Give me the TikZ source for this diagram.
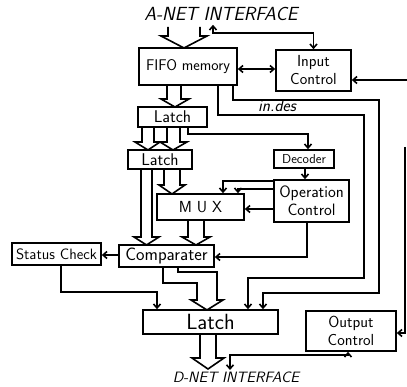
\documentclass[tikz,border=0pt]{standalone}
\usetikzlibrary{arrows.meta}
\begin{document}
\begin{tikzpicture}[x=1pt,y=-1pt,>={Straight Barb[length=4pt,width=7pt]},line width=1.6pt,
	blockbox/.style={draw, inner sep=1pt, align=center, font=\sffamily\fontsize{16}{18}\selectfont},
	nettext/.style={font=\sffamily\itshape\fontsize{19}{20}\selectfont}]
	
	\useasboundingbox (0,0) rectangle (407,387);
	
	% Draw the blocks
	\node[nettext] (anet) at (221,14) {A-NET INTERFACE};
	\node[blockbox, minimum width=98pt, minimum height=37pt, font=\sffamily\fontsize{15.5}{17}\selectfont] (fifo) at (188,66.5) {FIFO memory};
	\node[blockbox, minimum width=75pt, minimum height=41pt] (inctl) at (313.5,70.5) {Input\\Control};
	\node[blockbox, minimum width=69pt, minimum height=20pt, font=\sffamily\fontsize{17}{18}\selectfont] (latchA) at (172.5,117) {Latch};
	\node[blockbox, minimum width=64pt, minimum height=19pt, font=\sffamily\fontsize{17}{18}\selectfont] (latchB) at (160,159.5) {Latch};
	\node[blockbox, minimum width=60pt, minimum height=18pt, font=\sffamily\fontsize{13}{14}\selectfont] (decoder) at (304,159) {Decoder};
	\node[blockbox, minimum width=75pt, minimum height=42pt, font=\sffamily\fontsize{16.5}{18}\selectfont] (opctl) at (311.5,201) {Operation\\Control};
	\node[blockbox, minimum width=87pt, minimum height=26pt] (mux) at (200.5,207) {M\kern5pt U\kern5pt X};
	\node[blockbox, minimum width=95pt, minimum height=22pt, font=\sffamily\fontsize{18}{19}\selectfont] (comp) at (166.5,256) {Comparater};
	\node[blockbox, minimum width=89pt, minimum height=22pt, font=\sffamily\fontsize{15}{16}\selectfont] (status) at (56.5,254) {Status Check};
	\node[blockbox, minimum width=135pt, minimum height=24pt, font=\sffamily\fontsize{22}{23}\selectfont] (latchC) at (210.5,322) {Latch};
	\node[blockbox, minimum width=90pt, minimum height=40pt] (outctl) at (351,331) {Output\\Control};
	\node[nettext, anchor=north, inner sep=1pt, font=\sffamily\itshape\fontsize{15}{16}\selectfont] (dnet) at (236,370) {D-NET INTERFACE};
	\node[nettext, font=\sffamily\itshape\fontsize{17}{18}\selectfont] (indes) at (277,106) {in.des};
	
	% Draw the wide data arrows
	\draw (168,27) -- (168,36) -- (161,36) -- (184,48) -- (207,36) -- (200,36) -- (200,27);
	\draw (167,85) -- (167,99) -- (161,99) -- (175,107) -- (189,99) -- (181,99) -- (181,85);
	\draw (142,127) -- (142,142) -- (135,142) -- (148,150) -- (160,142) -- (154,142) -- (154,127);
	\draw (167,127) -- (167,142) -- (160,142) -- (173,150) -- (187,142) -- (180,142) -- (180,127);
	\draw (141,169) -- (141,237) -- (134,237) -- (146.5,245) -- (159,237) -- (152,237) -- (152,169);
	\draw (164,169) -- (164,185) -- (159,185) -- (172,194) -- (185,185) -- (180,185) -- (180,169);
	\draw (188,220) -- (188,237) -- (182,237) -- (196,245) -- (210,237) -- (204,237) -- (204,220);
	\draw (163,267) |- (197,283) -- (197,300) -- (191,300) -- (207,310) -- (223,300) -- (217,300) |- (178,272) -- (178,267);
	\draw (200,334) -- (200,358) -- (192,358) -- (208,369) -- (224,358) -- (216,358) -- (216,334);
	
	% Draw the control lines
	\draw[<->] (anet.south -| 213,0) -- (213,33) -| (inctl.north);
	\draw[<->] ([yshift=-2.5pt]fifo.east) -- ([yshift=-2.5pt]fifo.east -| inctl.west);
	\coordinate (inR) at (407,80);
	\draw[->] (inR) -- (inR -| inctl.east);
	\draw[->] ([xshift=-5pt]fifo.south east) |- (379,100) |- (263,293) -- (263,0 |- latchC.north);
	\draw[->] ([xshift=-20pt]fifo.south east) |- (364,115) |- (248,278) -- (248,0 |- latchC.north);
	\draw[->] ([xshift=-20pt]latchA.south east) |- (308,134) -- (308,0 |- decoder.north);
	\draw[->] (decoder.south -| 305,0) -- (305,0 |- opctl.north);
	\draw[->] (opctl.west |- 0,181) -| (223,0 |- mux.north);
	\draw[->] (opctl.west |- 0,189) -| (238,0 |- mux.north);
	\draw[->] (opctl.west |- 0,209) -- (mux.east |- 0,209);
	\draw[->] (opctl.south -| 307,0) |- (comp.east |- 0,257);
	\draw[->] (comp.west |- 0,255) -- (status.east |- 0,255);
	\draw[->] (status.south -| 61,0) |- (157,292) -- (157,0 |- latchC.north);
	\coordinate (outR) at (405,147);
	\draw[->] (outR) |- ([yshift=-2pt]outctl.east);
	\draw[<->] ([xshift=-3pt]outctl.south) -- ++(0,3) -| (230,0 |- dnet.north);
	
\end{tikzpicture}
\end{document}
